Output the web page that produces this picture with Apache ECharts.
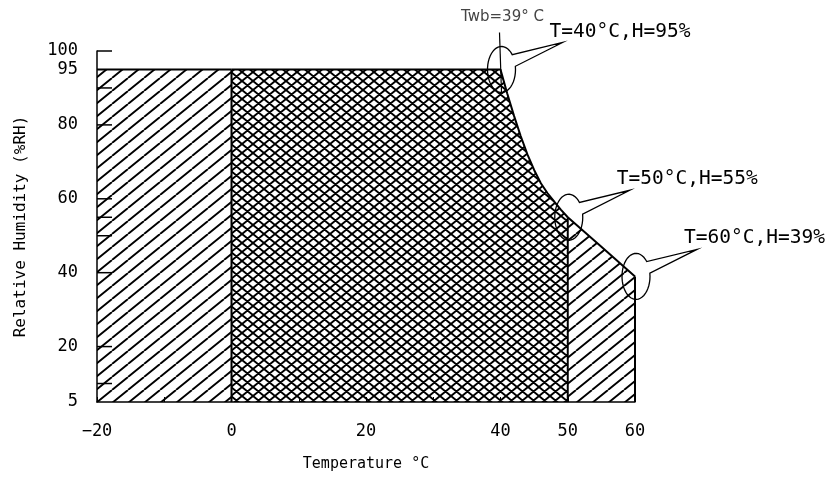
<!DOCTYPE html>
<html>
<head>
<meta charset="utf-8">
<script src="https://cdn.jsdelivr.net/npm/echarts@6/dist/echarts.min.js"></script>
<style>
  html, body { margin: 0; padding: 0; background: #fff; }
  #chart { width: 830px; height: 480px; }
</style>
</head>
<body>
<div id="chart"></div>
<script>
// 区域数据 (温度 °C, 相对湿度 %RH)
var leftZone = [[-20, 95], [0, 95]];
var middleZone = [[0, 95], [40, 95], [41, 88.5], [42, 82.5], [43, 77], [44, 72], [45, 67.8], [46, 64.2], [47, 61.5], [48, 59.2], [49, 57], [50, 55]];
var rightZone = [[50, 55], [55, 47], [60, 39]];
var dividers = [[0, 95], [50, 55], [60, 39]];

// 标注点
var calloutPoints = [[40, 95], [50, 55], [60, 39]];
var calloutLabels = ['T=40°C,H=95%', 'T=50°C,H=55%', 'T=60°C,H=39%'];
var wetBulbPoint = [40, 95];
var wetBulbLabel = 'Twb=39° C';

// 刻度
var xLabels = [-20, 0, 20, 40, 50, 60];
var yLabels = [5, 20, 40, 60, 80, 95, 100];
var yTickMarks = [100, 90, 80, 60, 55, 50, 40, 20, 10];

var FONT = '"DejaVu Sans Mono", monospace';

// 斜线 / 网格 填充图案
function hatch(w, h, cross) {
  var c = document.createElement('canvas');
  c.width = w; c.height = h;
  var g = c.getContext('2d');
  g.strokeStyle = '#000';
  g.lineWidth = 1.9;
  g.beginPath();
  [-w, 0, w].forEach(function (dx) {
    g.moveTo(dx, h); g.lineTo(dx + w, 0);
    if (cross) { g.moveTo(dx, 0); g.lineTo(dx + w, h); }
  });
  g.stroke();
  return c;
}
var diagPattern = { image: hatch(16, 13, false), repeat: 'repeat' };
var crossPattern = { image: hatch(11, 9, true), repeat: 'repeat' };

function zone(data, pattern) {
  return {
    type: 'line',
    data: data,
    symbol: 'none',
    silent: true,
    lineStyle: { color: '#000', width: 2 },
    areaStyle: { color: pattern, opacity: 1, origin: 'start' }
  };
}

var chart = echarts.init(document.getElementById('chart'));

var option = {
  animation: false,
  grid: { left: 97, right: 195, top: 51, bottom: 78 },
  xAxis: {
    type: 'value',
    min: -20, max: 60, interval: 10,
    name: 'Temperature °C',
    nameLocation: 'middle',
    nameGap: 55,
    nameTextStyle: { fontFamily: FONT, fontSize: 15, color: '#000' },
    axisLine: { onZero: false, lineStyle: { color: '#000', width: 1.5 } },
    axisTick: { show: true, inside: true, length: 5, lineStyle: { color: '#000' } },
    axisLabel: {
      margin: 21,
      fontFamily: FONT, fontSize: 17, color: '#000',
      formatter: function (v) {
        if (xLabels.indexOf(v) < 0) return '';
        return v < 0 ? '\u2212' + Math.abs(v) : String(v);
      }
    },
    splitLine: { show: false }
  },
  yAxis: {
    type: 'value',
    min: 5, max: 100, interval: 5,
    name: 'Relative Humidity (%RH)',
    nameLocation: 'middle',
    nameGap: 68,
    nameTextStyle: { fontFamily: FONT, fontSize: 16, color: '#000' },
    axisLine: { show: true, onZero: false, lineStyle: { color: '#000', width: 1.5 } },
    axisTick: { show: false },
    axisLabel: {
      margin: 19,
      fontFamily: FONT, fontSize: 17, color: '#000',
      formatter: function (v) { return yLabels.indexOf(v) < 0 ? '' : String(v); }
    },
    splitLine: { show: false }
  },
  series: [
    zone(leftZone, diagPattern),
    zone(middleZone, crossPattern),
    zone(rightZone, diagPattern),
    {
      // 区域分隔竖线
      type: 'custom',
      silent: true,
      data: dividers,
      renderItem: function (params, api) {
        var top = api.coord([api.value(0), api.value(1)]);
        var bot = api.coord([api.value(0), 5]);
        return {
          type: 'line',
          shape: { x1: top[0], y1: top[1], x2: bot[0], y2: bot[1] },
          style: { stroke: '#000', lineWidth: 2 }
        };
      }
    },
    {
      // y轴内侧刻度
      type: 'custom',
      silent: true,
      data: yTickMarks.map(function (v) { return [-20, v]; }),
      renderItem: function (params, api) {
        var p = api.coord([api.value(0), api.value(1)]);
        return {
          type: 'line',
          shape: { x1: p[0], y1: p[1], x2: p[0] + 15, y2: p[1] },
          style: { stroke: '#000', lineWidth: 1.5 }
        };
      }
    },
    {
      // 湿球温度标注
      type: 'custom',
      silent: true,
      data: [wetBulbPoint],
      renderItem: function (params, api) {
        var p = api.coord([api.value(0), api.value(1)]);
        return {
          type: 'group',
          children: [
            { type: 'line', shape: { x1: p[0] - 1, y1: p[1] - 37, x2: p[0] + 1, y2: p[1] + 23 },
              style: { stroke: '#000', lineWidth: 1.2 } },
            { type: 'text', x: p[0] + 2, y: p[1] - 52,
              style: { text: wetBulbLabel, fill: '#444', font: '15px "DejaVu Sans", sans-serif',
                       align: 'center', verticalAlign: 'middle' } }
          ]
        };
      }
    },
    {
      // 气泡标注
      type: 'custom',
      silent: true,
      data: calloutPoints,
      renderItem: function (params, api) {
        var p = api.coord([api.value(0), api.value(1)]);
        var cx = p[0] + 1, cy = p[1], rx = 14, ry = 23;
        var pts = [];
        var a0 = -8, a1 = 320;
        for (var a = a0; a <= a1; a += 8) {
          var r = a * Math.PI / 180;
          pts.push([cx + rx * Math.cos(r), cy + ry * Math.sin(r)]);
        }
        pts.push([p[0] + 62, p[1] - 27]);
        return {
          type: 'group',
          children: [
            { type: 'polygon', shape: { points: pts },
              style: { fill: 'none', stroke: '#000', lineWidth: 1.3 } },
            { type: 'text', x: p[0] + 49, y: p[1] - 38,
              style: { text: calloutLabels[params.dataIndex], fill: '#000',
                       font: '19.5px ' + FONT, align: 'left', verticalAlign: 'middle' } }
          ]
        };
      }
    }
  ]
};

chart.setOption(option);
</script>
</body>
</html>
